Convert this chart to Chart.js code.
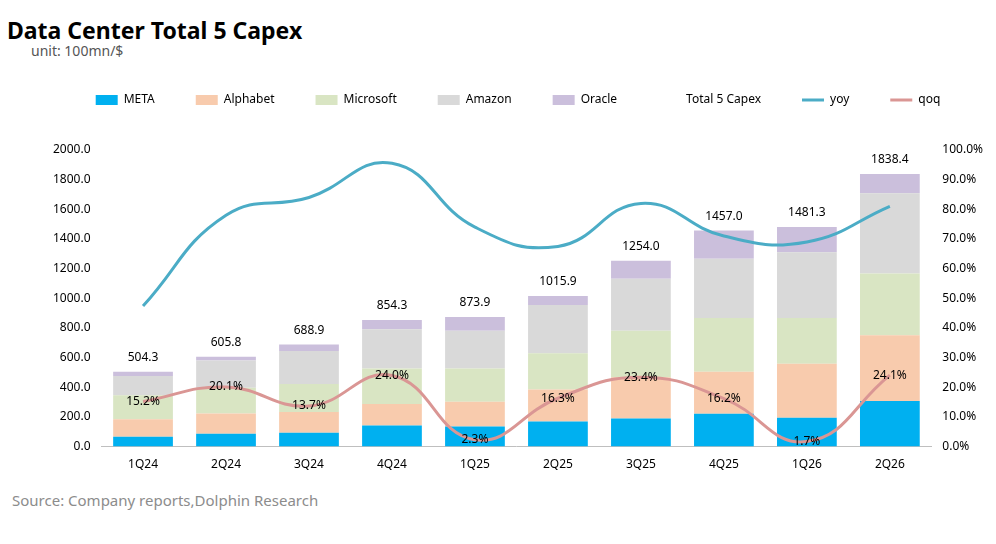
<!DOCTYPE html>
<html><head><meta charset="utf-8">
<script src="https://cdn.jsdelivr.net/npm/chart.js@4"></script>
<style>
body{margin:0;background:#fff;font-family:"Noto Sans",sans-serif;}
#wrap{position:relative;width:996px;height:544px;}
#title{position:absolute;left:7px;top:14px;font-size:23px;font-weight:bold;color:#000;}
#unit{position:absolute;left:31px;top:41px;font-size:14px;color:#555;}
#src{position:absolute;left:12px;top:490px;font-size:15px;color:#8c8c8c;}
#c{position:absolute;left:0;top:53px;}
</style></head><body>
<div id="wrap">
<div id="title">Data Center Total 5 Capex</div>
<div id="unit">unit: 100mn/$</div>
<div id="src">Source: Company reports,Dolphin Research</div>
<canvas id="c" width="996" height="422"></canvas>
</div>
<script>
const categories=["1Q24","2Q24","3Q24","4Q24","1Q25","2Q25","3Q25","4Q25","1Q26","2Q26"];
const meta=[67,86,93,143,136,169,190,221,195,307];
const alphabet=[117,137,141,145,167,216,277,283,363,444];
const microsoft=[162,173,188,238,223,245,314,364,310,417];
const amazon=[130,184,223,266,255,324,350,398,443,541];
const oracle=[28.3,25.8,43.9,62.3,92.9,61.9,123,191,170.3,129.4];
const totals=[504.3,605.8,688.9,854.3,873.9,1015.9,1254.0,1457.0,1481.3,1838.4];
const yoy=[47.4,78,84,95.5,74,67.5,82,71,69,81];
const qoq=[15.2,20.1,13.7,24.0,2.3,16.3,23.4,16.2,1.7,24.1];
const lbl={
 id:'lbl',
 afterInit(ch){const l=ch.legend;const f=l.fit.bind(l);l.fit=function(){f();this.height+=34;};},
 afterDatasetsDraw(ch){
  const ctx=ch.ctx;ctx.save();ctx.font='12px "Noto Sans"';ctx.fillStyle='#000';ctx.textAlign='center';
  const m=ch.getDatasetMeta(5);
  m.data.forEach((p,i)=>{ctx.textBaseline='bottom';ctx.fillText(totals[i].toFixed(1),p.x,p.y-8);});
  const q=ch.getDatasetMeta(7);
  q.data.forEach((p,i)=>{ctx.textBaseline='middle';ctx.fillText(qoq[i].toFixed(1)+'%',p.x,p.y);});
  ctx.restore();
 }
};
Chart.defaults.font.family='"Noto Sans", sans-serif';
Chart.defaults.color='#000';
new Chart(document.getElementById('c'),{
 data:{labels:categories,datasets:[
  {type:'bar',label:'META',data:meta,backgroundColor:'#00b0f0',stack:'s',order:3},
  {type:'bar',label:'Alphabet',data:alphabet,backgroundColor:'#f8cbad',stack:'s',order:3},
  {type:'bar',label:'Microsoft',data:microsoft,backgroundColor:'#d9e5c3',stack:'s',order:3},
  {type:'bar',label:'Amazon',data:amazon,backgroundColor:'#d9d9d9',stack:'s',order:3},
  {type:'bar',label:'Oracle',data:oracle,backgroundColor:'#cbbfdc',stack:'s',order:3},
  {type:'line',label:'Total 5 Capex',data:totals,showLine:false,pointRadius:0,borderColor:'rgba(0,0,0,0)',backgroundColor:'rgba(0,0,0,0)',order:2},
  {type:'line',label:'yoy',data:yoy,yAxisID:'y2',borderColor:'#4bacc6',borderWidth:3,pointRadius:0,tension:0.45,order:1},
  {type:'line',label:'qoq',data:qoq,yAxisID:'y2',borderColor:'#da9694',borderWidth:3,pointRadius:0,tension:0.45,order:1}
 ]},
 options:{responsive:false,animation:false,
  layout:{padding:{left:50,right:10,top:0,bottom:0}},
  plugins:{tooltip:{enabled:false},
   legend:{position:'top',align:'center',labels:{font:{size:12},padding:41,boxWidth:22,boxHeight:10,usePointStyle:true,pointStyleWidth:22,
    generateLabels(ch){return ch.data.datasets.map((d,i)=>({text:d.label,datasetIndex:i,
      fillStyle:d.type==='bar'?d.backgroundColor:'rgba(0,0,0,0)',strokeStyle:d.type==='bar'?d.backgroundColor:d.borderColor,
      lineWidth:d.type==='bar'?0:3,pointStyle:d.type==='bar'?'rect':'line',hidden:false}));}
   }}},
  scales:{
   x:{stacked:true,grid:{display:false},border:{color:'#bfbfbf'},ticks:{font:{size:12}},categoryPercentage:1,barPercentage:0.41},
   y:{stacked:true,min:0,max:2000,ticks:{stepSize:200,callback:v=>v.toFixed(1),font:{size:12}},grid:{display:false},border:{display:false}},
   y2:{position:'right',min:0,max:100,ticks:{stepSize:10,callback:v=>v.toFixed(1)+'%',font:{size:12}},grid:{display:false},border:{display:false}}
  }
 },
 plugins:[lbl]
});
</script>
</body></html>
